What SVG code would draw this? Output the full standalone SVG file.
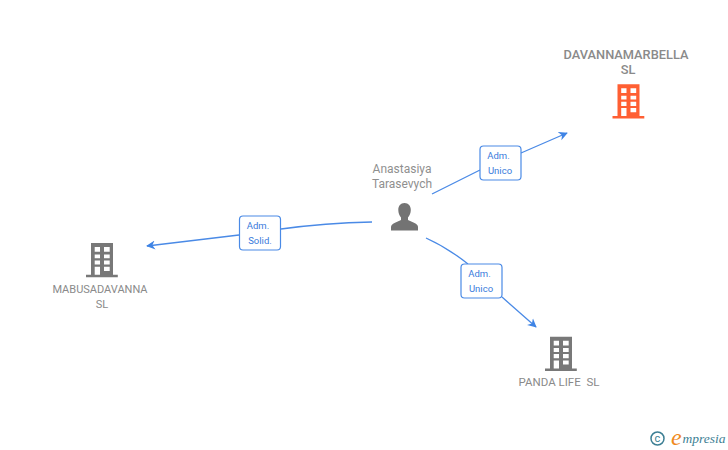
<svg xmlns="http://www.w3.org/2000/svg" width="728" height="450" viewBox="0 0 728 450">
<style>
text{font-family:Roboto,"Liberation Sans",sans-serif}
.n{font-size:11px;fill:#8a8a8a;text-anchor:middle}
.b{font-size:12.800px;font-weight:500;fill:#8a8a8a;text-anchor:middle}
.p{font-size:12px;fill:#8f8f8f;text-anchor:middle}
.l{font-size:9.500px;fill:#3a7bdc;text-anchor:middle}
.c{fill:none;stroke:#4a8ae6;stroke-width:1.300}
.box{fill:#fff;stroke:#4a8ae6;stroke-width:1.200}
.a{fill:#3f84e5;stroke:none}
</style>
<defs>
<path id="bld" fill-rule="evenodd" d="M5 0H27V31.700H31.800V34.200H0V31.700H5ZM8.700 4V8.700H14V4ZM18 4V8.700H23.700V4ZM8.700 11.400V15.200H14V11.400ZM18 11.400V15.200H23.700V11.400ZM8.700 17.400V21.600H14V17.400ZM18 17.400V21.600H23.700V17.400ZM8.700 23.700V31.700H14V23.700ZM18 23.700V27.900H23.700V23.700Z"/>
<marker id="arr" viewBox="0 0 10 10" refX="9" refY="5" markerWidth="9" markerHeight="10" markerUnits="userSpaceOnUse" orient="auto"><path d="M0 0L10 5L0 10L3 5Z" class="a"/></marker>
</defs>
<g id="connectors">
<path class="c" d="M432 194L480 170M521 153L567 133" marker-end="url(#arr)"/>
<path class="c" d="M372 222Q325 223 281 229M239 235L147 246" marker-end="url(#arr)"/>
<path class="c" d="M426 238Q448 248 468 264M502 297L536 327" marker-end="url(#arr)"/>
</g>
<g id="label-davanna"><rect class="box" x="480" y="146" width="41" height="34" rx="3.500"/><text class="l" x="498.500" y="159">Adm.</text><text class="l" x="500" y="174">Unico</text></g>
<g id="label-mabusa"><rect class="box" x="239.500" y="216" width="41" height="34" rx="3.500"/><text class="l" x="258" y="229">Adm.</text><text class="l" x="260" y="244">Solid.</text></g>
<g id="label-panda"><rect class="box" x="461" y="264" width="41" height="34" rx="3.500"/><text class="l" x="479.500" y="277">Adm.</text><text class="l" x="481" y="292">Unico</text></g>
<g id="node-davanna"><text class="b" x="626" y="59">DAVANNAMARBELLA</text><text class="b" x="628" y="74">SL</text><use href="#bld" x="612.500" y="84.300" fill="#ff5f33"/></g>
<g id="node-person"><text class="p" x="402" y="173">Anastasiya</text><text class="p" x="402" y="188">Tarasevych</text><path fill="#737373" d="M404.500 203C400.500 203 398.300 206 398.300 210C398.300 213 399.500 215.500 401 217.500V220C397 222 391 223.500 391 227V230.500H418V227C418 223.500 412 222 408 220V217.500C409.500 215.500 410.800 213 410.800 210C410.800 206 408.500 203 404.500 203Z"/></g>
<g id="node-mabusa"><use href="#bld" x="86" y="243" fill="#787878"/><text class="n" x="100" y="293">MABUSADAVANNA</text><text class="n" x="102" y="308">SL</text></g>
<g id="node-panda"><use href="#bld" x="545" y="336.700" fill="#787878"/><text class="n" x="559" y="386" style="white-space:pre;font-size:11.500px">PANDA LIFE  SL</text></g>
<g id="logo"><circle cx="657.500" cy="438.500" r="6.500" fill="none" stroke="#3d7f94" stroke-width="1.500"/><text x="657.500" y="442" font-size="11" fill="#3d7f94" text-anchor="middle">c</text><text x="671" y="445" font-size="24" font-style="italic" fill="#f08a1d" style="font-family:'Liberation Serif',serif">e</text><text x="682.500" y="443" font-size="13.500" font-style="italic" fill="#3d7f94" style="font-family:'Liberation Serif',serif">mpresia</text></g>
</svg>
